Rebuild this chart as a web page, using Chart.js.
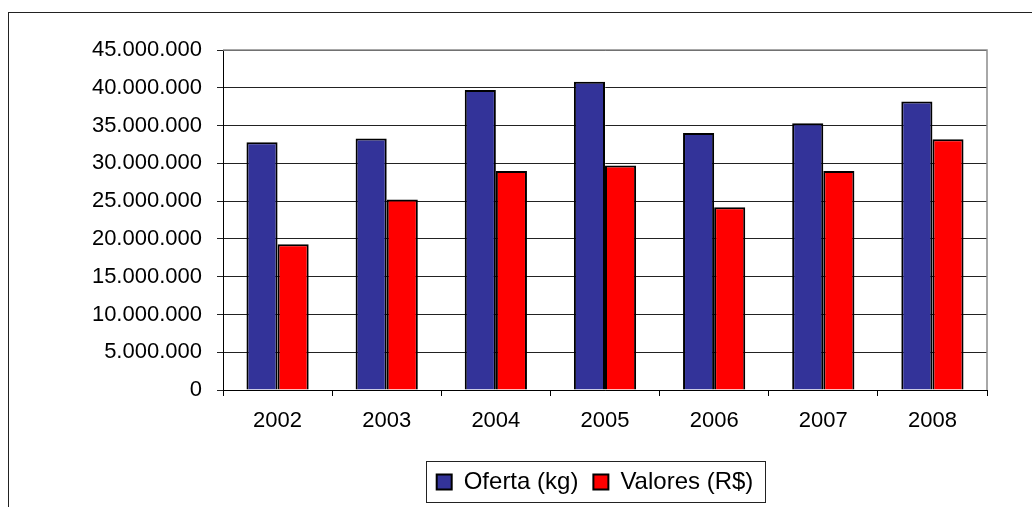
<!DOCTYPE html>
<html lang="pt">
<head>
  <meta charset="UTF-8" />
  <title>Oferta e Valores 2002-2008</title>
  <script src="https://cdn.jsdelivr.net/npm/chart.js"></script>
  <style>
    * { margin: 0; padding: 0; box-sizing: border-box; }
    body { background: #fff; width: 1032px; height: 507px; overflow: hidden; position: relative; }
    .frame {
      position: absolute; left: 8px; top: 12px; width: 2000px; height: 2000px;
      border-left: 1px solid #222; border-top: 1px solid #222;
    }
    .wrap { position: absolute; left: 0; top: 0; width: 1032px; height: 507px; }
  </style>
</head>
<body>
  <div class="frame"></div>
  <div class="wrap"><canvas id="chart"></canvas></div>

  <script>
    // data
    const years = ['2002', '2003', '2004', '2005', '2006', '2007', '2008'];
    const oferta = [32800000, 33300000, 39700000, 40800000, 34000000, 35300000, 38200000];
    const valores = [19300000, 25200000, 29000000, 29700000, 24200000, 29000000, 33200000];
    const yMax = 45000000;
    const yStep = 5000000;

    const fmt = v => String(v).replace(/\B(?=(\d{3})+(?!\d))/g, '.');

    // move legend to its place and draw the plot / legend frames
    const excelLook = {
      id: 'excelLook',
      afterLayout(chart) {
        const lg = chart.legend;
        const shift = 595 - (lg.left + lg.right) / 2;
        lg.left += shift;
        lg.right += shift;
      },
      afterDraw(chart) {
        const { ctx, chartArea: a } = chart;
        ctx.save();
        ctx.strokeStyle = '#8c8c8c';
        ctx.lineWidth = 1.5;
        ctx.beginPath();
        ctx.moveTo(a.left, a.top);
        ctx.lineTo(a.right, a.top);
        ctx.lineTo(a.right, a.bottom);
        ctx.stroke();

        const hb = chart.legend.legendHitBoxes;
        if (hb && hb.length) {
          const first = hb[0], last = hb[hb.length - 1];
          const cy = first.top + first.height / 2;
          const x0 = Math.round(first.left - 11) + 0.5;
          const x1 = Math.round(last.left + last.width + 12) + 0.5;
          ctx.strokeStyle = '#222';
          ctx.lineWidth = 1;
          ctx.strokeRect(x0, Math.round(cy - 21) + 0.5, x1 - x0, 41);
        }
        ctx.restore();
      }
    };

    new Chart(document.getElementById('chart'), {
      type: 'bar',
      data: {
        labels: years,
        datasets: [
          { label: 'Oferta (kg)', data: oferta, backgroundColor: '#333399', borderColor: '#000', borderWidth: 2 },
          { label: 'Valores (R$)', data: valores, backgroundColor: '#ff0000', borderColor: '#000', borderWidth: 2 }
        ]
      },
      options: {
        responsive: true,
        maintainAspectRatio: false,
        animation: false,
        layout: { padding: { left: 0, right: 45, top: 50, bottom: 3 } },
        datasets: { bar: { categoryPercentage: 0.57, barPercentage: 1 } },
        plugins: {
          tooltip: { enabled: false },
          legend: {
            position: 'bottom',
            labels: {
              color: '#000',
              font: { family: 'Liberation Sans, Arial, sans-serif', size: 24 },
              boxWidth: 15,
              boxHeight: 15,
              padding: 15
            }
          }
        },
        scales: {
          x: {
            grid: { drawOnChartArea: false, drawTicks: true, tickLength: 6, color: '#000' },
            border: { color: '#000', width: 1 },
            ticks: { color: '#000', padding: 12, font: { family: 'Liberation Sans, Arial, sans-serif', size: 22 } },
            afterFit(s) { s.height = 65; }
          },
          y: {
            min: 0,
            max: yMax,
            grid: { color: '#222', tickLength: 6 },
            border: { color: '#000', width: 1 },
            ticks: {
              stepSize: yStep,
              color: '#000',
              padding: 15,
              font: { family: 'Liberation Sans, Arial, sans-serif', size: 22 },
              callback: v => fmt(v)
            },
            afterFit(s) { s.width = 223; }
          }
        }
      },
      plugins: [excelLook]
    });
  </script>
</body>
</html>
